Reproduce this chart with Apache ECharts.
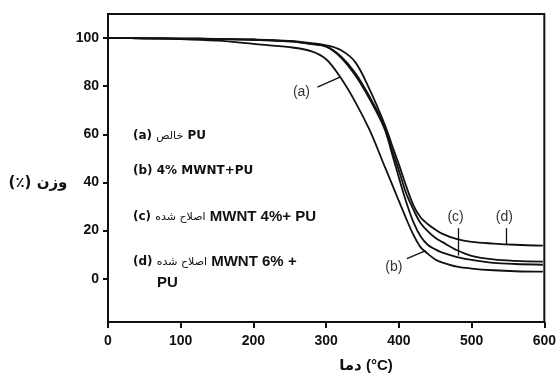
<!DOCTYPE html>
<html>
<head>
<meta charset="utf-8">
<script src="https://cdn.jsdelivr.net/npm/echarts@6/dist/echarts.min.js"></script>
<style>
html, body { margin: 0; padding: 0; background: #fff; }
#chart { width: 559px; height: 378px; }
</style>
</head>
<body>
<div id="chart"></div>
<script>
// temperature (°C) shared by all four TGA curves
const temps = [0, 50, 100, 150, 200, 250, 280, 300, 320, 340, 360, 380, 390, 400, 410, 420, 430, 440, 450, 460, 480, 500, 530, 560, 598];
// weight (%) for each sample
const weightA = [100, 99.9, 99.6, 98.9, 97.6, 96.2, 94.5, 91.2, 83.5, 73.5, 61.6, 47, 39.7, 32.3, 25, 18.2, 13, 10.3, 8, 6.7, 5, 4.2, 3.5, 3.1, 2.9];
const weightB = [100, 99.9, 99.8, 99.6, 99.3, 98.6, 97.5, 96.4, 92, 84.5, 74.5, 62.5, 52.5, 42, 32, 23.5, 17.5, 14, 12.2, 10.8, 9, 7.8, 6.6, 6.1, 5.8];
const weightC = [100, 99.9, 99.8, 99.6, 99.3, 98.6, 97.6, 96.6, 92.5, 85.5, 75.5, 63.5, 54, 45, 35.5, 28.7, 23, 19.7, 17, 15.2, 11.8, 9.5, 8, 7.4, 7.1];
const weightD = [100, 99.9, 99.8, 99.7, 99.4, 98.8, 97.9, 97, 95, 90, 78.5, 64.5, 56, 47.5, 38.5, 30.5, 25.4, 22.6, 20.4, 18.6, 16.4, 15.3, 14.6, 14.1, 13.75];
const yTicks = [0, 20, 40, 60, 80, 100];

const pairs = (ys) => temps.map((t, i) => [t, ys[i]]);

const myChart = echarts.init(document.getElementById('chart'));

const lineSeries = (name, ys) => ({
	name: name,
	type: 'line',
	data: pairs(ys),
	showSymbol: false,
	smooth: 0.35,
	lineStyle: { color: '#111', width: 1.8 },
	z: 3
});

const seriesA = lineSeries('a', weightA);
// leader lines for the curve tags
seriesA.markLine = {
	silent: true,
	symbol: ['none', 'none'],
	label: { show: false },
	lineStyle: { color: '#111', width: 1.3, type: 'solid' },
	data: [
		[{ coord: [288, 79.6] }, { coord: [319, 83.8] }],
		[{ coord: [411, 8.3] }, { coord: [437, 11.7] }],
		[{ coord: [481, 21] }, { coord: [481, 9.6] }],
		[{ coord: [547, 21] }, { coord: [547, 14] }]
	]
};
// curve tags
seriesA.markPoint = {
	silent: true,
	symbol: 'circle',
	symbolSize: 1,
	itemStyle: { color: 'rgba(0,0,0,0)' },
	label: {
		show: true,
		position: 'inside',
		formatter: '{b}',
		color: '#333',
		fontSize: 14,
		fontFamily: 'Arial, "Liberation Sans", sans-serif'
	},
	data: [
		{ name: '(a)', coord: [266, 77.5] },
		{ name: '(b)', coord: [393, 5] },
		{ name: '(c)', coord: [478, 25.4] },
		{ name: '(d)', coord: [545, 25.4] }
	]
};

const tagFont = { fontSize: 12, fontWeight: 'bold', fontFamily: '"DejaVu Sans", sans-serif', fill: '#111' };
const faFont = { fontSize: 11, fontWeight: 'normal', fontFamily: '"DejaVu Sans", sans-serif', fill: '#111' };
const bigFont = { fontSize: 15, fontWeight: 'bold', fontFamily: 'Arial, "Liberation Sans", sans-serif', fill: '#111' };
const richStyle = { p: tagFont, f: faFont, m: bigFont };

const legendText = (x, y, text) => ({
	type: 'text',
	x: x,
	y: y,
	style: { text: text, rich: richStyle, verticalAlign: 'middle', align: 'left' }
});

const option = {
	backgroundColor: '#fff',
	animation: false,
	grid: {
		left: 108, right: 13, top: 14, bottom: 56,
		show: true, borderColor: '#111', borderWidth: 2
	},
	xAxis: {
		type: 'value',
		min: 0,
		max: 600,
		interval: 100,
		axisLine: { show: true, onZero: false, lineStyle: { color: '#111', width: 2 } },
		axisTick: { show: true, length: 6, lineStyle: { color: '#111', width: 2 } },
		axisLabel: {
			color: '#111', fontSize: 14, fontWeight: 'bold', margin: 12,
			fontFamily: 'Arial, "Liberation Sans", sans-serif'
		},
		splitLine: { show: false }
	},
	yAxis: {
		type: 'value',
		min: -18,
		max: 110,
		axisLine: { show: true, onZero: false, lineStyle: { color: '#111', width: 2 } },
		axisTick: { show: true, length: 5, customValues: yTicks, lineStyle: { color: '#111', width: 2 } },
		axisLabel: {
			color: '#111', fontSize: 14, fontWeight: 'bold', margin: 9, customValues: yTicks,
			fontFamily: 'Arial, "Liberation Sans", sans-serif'
		},
		splitLine: { show: false }
	},
	graphic: [
		legendText(133, 136, '{p|(a) }{f|خالص}{p| PU}'),
		legendText(133, 171, '{p|(b) 4% MWNT+PU}'),
		legendText(133, 217, '{p|(c) }{f|اصلاح شده}{m| MWNT 4%+ PU}'),
		legendText(133, 262, '{p|(d) }{f|اصلاح شده}{m| MWNT 6% +}'),
		legendText(157, 283, '{m|PU}'),
		{
			type: 'text', x: 38, y: 183,
			style: {
				text: '(٪) وزن', align: 'center', verticalAlign: 'middle',
				fontSize: 15, fontWeight: 'bold', fontFamily: '"DejaVu Sans", sans-serif', fill: '#111'
			}
		},
		{
			type: 'text', x: 366, y: 366,
			style: {
				text: 'دما (°C)', align: 'center', verticalAlign: 'middle',
				fontSize: 15, fontWeight: 'bold', fontFamily: 'Arial, "Liberation Sans", "DejaVu Sans", sans-serif', fill: '#111'
			}
		}
	],
	series: [
		seriesA,
		lineSeries('b', weightB),
		lineSeries('c', weightC),
		lineSeries('d', weightD)
	]
};

myChart.setOption(option);
</script>
</body>
</html>
